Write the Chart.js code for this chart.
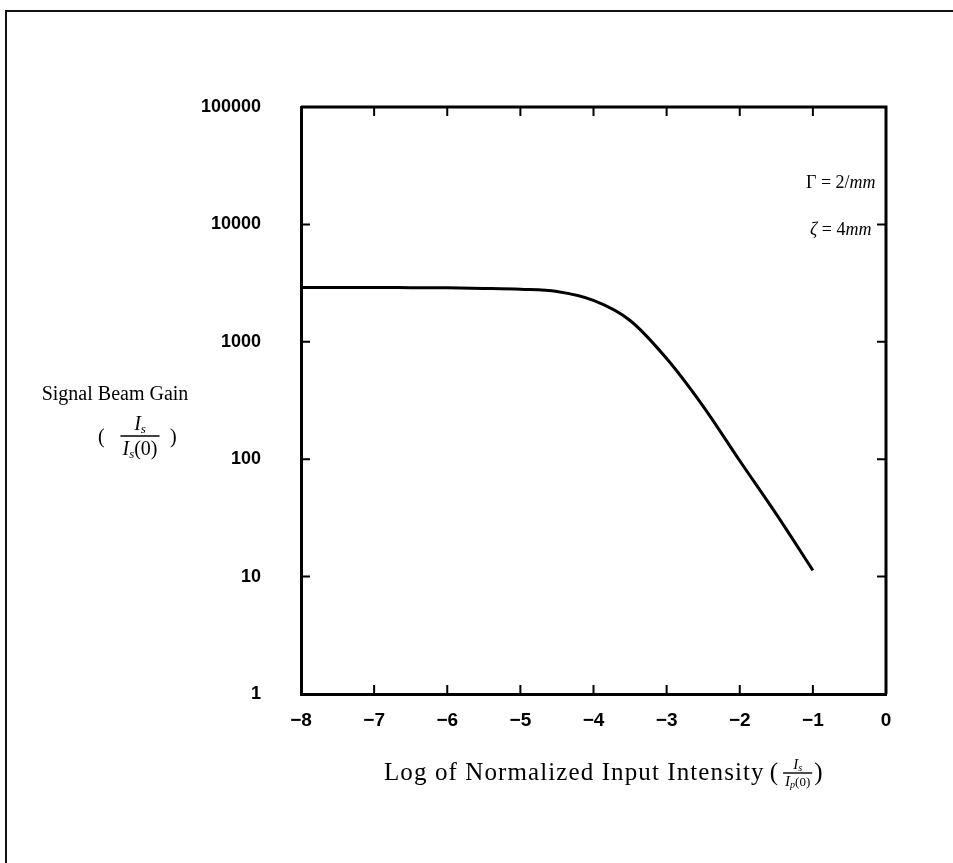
<!DOCTYPE html>
<html>
<head>
<meta charset="utf-8">
<script src="https://cdn.jsdelivr.net/npm/chart.js@4.4.0/dist/chart.umd.min.js"></script>
<style>
  html, body { margin: 0; padding: 0; background: #fff; }
  #wrap { position: relative; width: 953px; height: 863px; overflow: hidden; }
  #frame { position: absolute; left: 5px; top: 10px; right: -4px; bottom: -4px;
           border-left: 2px solid #111; border-top: 2px solid #111; }
  canvas { position: absolute; left: 0; top: 0; }
</style>
</head>
<body>
<div id="wrap">
  <div id="frame"></div>
  <canvas id="gainChart" width="953" height="863"></canvas>
</div>
<script>
// log10 of normalized input intensity vs signal beam gain
const logIntensity = [-8, -7.5, -7, -6.5, -6, -5.5, -5, -4.5, -4, -3.5, -3, -2.5, -2, -1.5, -1];
const gain = [2900, 2900, 2900, 2890, 2880, 2850, 2800, 2680, 2250, 1520, 720, 282, 97, 34, 11.3];

const xTicks = [-8, -7, -6, -5, -4, -3, -2, -1, 0];
const yTicks = [1, 10, 100, 1000, 10000, 100000];

const serif = '"Liberation Serif", "DejaVu Serif", serif';
const sans = '"Liberation Sans", Arial, sans-serif';

// draw a run of text pieces: {t, it, size, dy, sp}
function runWidth(ctx, runs) {
    let w = 0;
    for (const r of runs) {
        ctx.font = (r.it ? 'italic ' : '') + r.size + 'px ' + serif;
        w += ctx.measureText(r.t).width + (r.sp || 0) * r.t.length;
    }
    return w;
}
function drawRuns(ctx, x, y, runs) {
    for (const r of runs) {
        ctx.font = (r.it ? 'italic ' : '') + r.size + 'px ' + serif;
        if (r.sp) {
            for (const ch of r.t) {
                ctx.fillText(ch, x, y + (r.dy || 0));
                x += ctx.measureText(ch).width + r.sp;
            }
        } else {
            ctx.fillText(r.t, x, y + (r.dy || 0));
            x += ctx.measureText(r.t).width;
        }
    }
    return x;
}
// fraction centred on cx with bar at barY
function drawFrac(ctx, cx, barY, num, den, gap) {
    const wn = runWidth(ctx, num), wd = runWidth(ctx, den);
    const w = Math.max(wn, wd) + 4;
    ctx.lineWidth = 1.4;
    ctx.beginPath();
    ctx.moveTo(cx - w / 2, barY);
    ctx.lineTo(cx + w / 2, barY);
    ctx.stroke();
    drawRuns(ctx, cx - wn / 2, barY - gap.top, num);
    drawRuns(ctx, cx - wd / 2, barY + gap.bottom, den);
    return w;
}

const decorations = {
    id: 'decorations',
    afterDraw(chart) {
        const ctx = chart.ctx;
        const a = chart.chartArea;
        const xs = chart.scales.x, ys = chart.scales.y;
        ctx.save();
        ctx.strokeStyle = '#000';
        ctx.fillStyle = '#000';

        // frame top/right
        ctx.lineWidth = 3;
        ctx.beginPath();
        ctx.moveTo(a.left, a.top);
        ctx.lineTo(a.right, a.top);
        ctx.lineTo(a.right, a.bottom);
        ctx.stroke();

        // inward ticks
        ctx.lineWidth = 2;
        ctx.beginPath();
        xTicks.forEach(v => {
            const px = xs.getPixelForValue(v);
            ctx.moveTo(px, a.bottom); ctx.lineTo(px, a.bottom - 9);
            ctx.moveTo(px, a.top); ctx.lineTo(px, a.top + 9);
        });
        yTicks.forEach(v => {
            const py = ys.getPixelForValue(v);
            ctx.moveTo(a.left, py); ctx.lineTo(a.left + 9, py);
            ctx.moveTo(a.right, py); ctx.lineTo(a.right - 9, py);
        });
        ctx.stroke();

        ctx.textBaseline = 'alphabetic';
        ctx.textAlign = 'left';

        // y title
        ctx.font = '20px ' + serif;
        const t = 'Signal Beam Gain';
        ctx.fillText(t, 115 - ctx.measureText(t).width / 2, 400);
        ctx.font = '20px ' + serif;
        ctx.fillText('(', 98, 443);
        drawFrac(ctx, 140, 436,
            [{t: 'I', it: true, size: 20}, {t: 's', it: true, size: 13, dy: 3}],
            [{t: 'I', it: true, size: 20}, {t: 's', it: true, size: 13, dy: 3}, {t: '(0)', size: 20}],
            {top: 6, bottom: 19});
        ctx.font = '20px ' + serif;
        ctx.fillText(')', 170, 443);

        // x title
        let x = drawRuns(ctx, 384, 780, [{t: 'Log of Normalized Input Intensity', size: 25, sp: 1.1}]);
        ctx.font = '25px ' + serif;
        ctx.fillText('(', x + 5, 780);
        const fw = drawFrac(ctx, x + 33, 773,
            [{t: 'I', it: true, size: 15}, {t: 's', it: true, size: 10, dy: 2}],
            [{t: 'I', it: true, size: 15}, {t: 'p', it: true, size: 10, dy: 2}, {t: '(0)', size: 13}],
            {top: 4, bottom: 13});
        ctx.font = '25px ' + serif;
        ctx.fillText(')', x + 35 + fw / 2, 780);

        // parameters
        drawRuns(ctx, 806, 188, [{t: 'Γ = 2/', size: 18}, {t: 'mm', it: true, size: 18}]);
        drawRuns(ctx, 810, 235, [{t: 'ζ', it: true, size: 18}, {t: ' = 4', size: 18}, {t: 'mm', it: true, size: 18}]);

        ctx.restore();
    }
};

new Chart(document.getElementById('gainChart'), {
    type: 'line',
    plugins: [decorations],
    data: {
        datasets: [{
            data: logIntensity.map((v, i) => ({x: v, y: gain[i]})),
            borderColor: '#000',
            borderWidth: 3,
            pointRadius: 0,
            fill: false,
            cubicInterpolationMode: 'monotone'
        }]
    },
    options: {
        responsive: false,
        animation: false,
        devicePixelRatio: 1,
        layout: {
            padding: {left: 0, top: 107, right: 67, bottom: 99}
        },
        plugins: {
            legend: {display: false},
            tooltip: {enabled: false}
        },
        scales: {
            x: {
                type: 'linear',
                min: -8,
                max: 0,
                afterBuildTicks: s => { s.ticks = xTicks.map(v => ({value: v})); },
                afterFit: s => { s.height = 70; },
                grid: {display: false},
                border: {display: true, width: 3, color: '#000'},
                ticks: {
                    color: '#000',
                    padding: 7,
                    maxRotation: 0,
                    font: {family: sans, size: 19, weight: 'bold'},
                    callback: v => (v < 0 ? '\u2212' + Math.abs(v) : String(v))
                }
            },
            y: {
                type: 'logarithmic',
                min: 1,
                max: 100000,
                afterBuildTicks: s => { s.ticks = yTicks.map(v => ({value: v})); },
                afterFit: s => { s.width = 301; },
                grid: {display: false},
                border: {display: true, width: 3, color: '#000'},
                ticks: {
                    color: '#000',
                    padding: 32,
                    font: {family: sans, size: 18, weight: 'bold'},
                    callback: v => String(v)
                }
            }
        }
    }
});
</script>
</body>
</html>
